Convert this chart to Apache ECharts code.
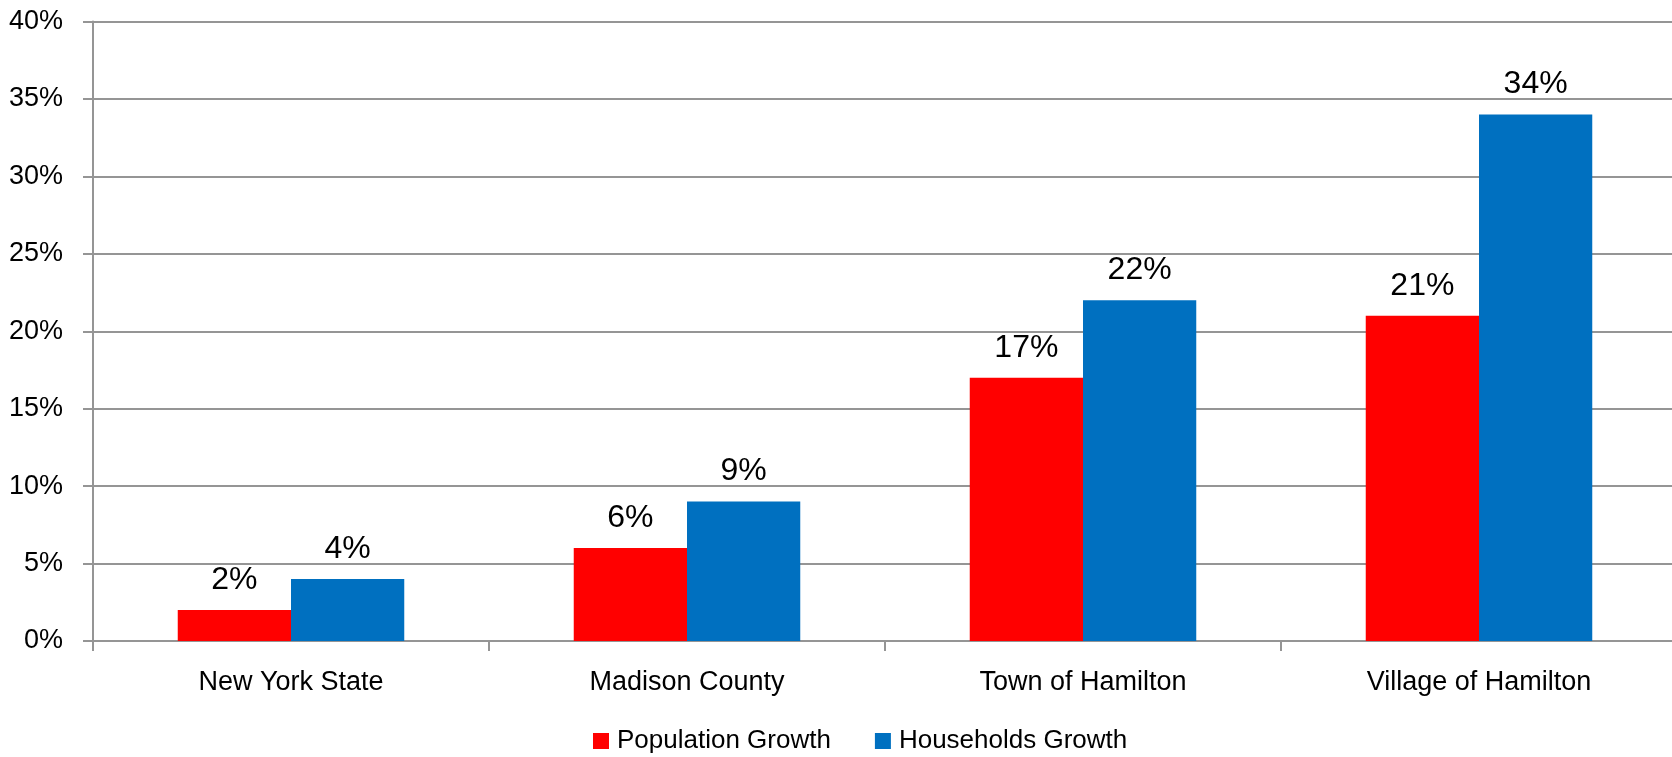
<!DOCTYPE html>
<html>
<head>
<meta charset="utf-8">
<script src="https://cdn.jsdelivr.net/npm/echarts@6/dist/echarts.min.js"></script>
<style>
html,body{margin:0;padding:0;background:#fff;}
#chart{width:1672px;height:757px;}
</style>
</head>
<body>
<div id="chart"></div>
<script>
const categories = ['New York State', 'Madison County', 'Town of Hamilton', 'Village of Hamilton'];
const populationGrowth = [2, 6, 17, 21];
const householdsGrowth = [4, 9, 22, 34];
const seriesNames = ['Population Growth', 'Households Growth'];

const FONT = '"Liberation Sans", Arial, sans-serif';
const GRID_COLOR = '#959595';

const chart = echarts.init(document.getElementById('chart'), null, {renderer: 'canvas'});
chart.setOption({
  animation: false,
  backgroundColor: '#ffffff',
  textStyle: {fontFamily: FONT},
  grid: {left: 93, width: 1584, top: 21.5, height: 619.5, containLabel: false, outerBoundsMode: 'none'},
  legend: {
    data: seriesNames,
    left: 588,
    top: 723,
    itemWidth: 16,
    itemHeight: 16,
    itemGap: 44,
    icon: 'rect',
    textStyle: {fontFamily: FONT, fontSize: 26, color: '#000', padding: [0, 0, 0, 3]}
  },
  xAxis: {
    type: 'category',
    data: categories,
    boundaryGap: true,
    axisLine: {show: true, lineStyle: {color: GRID_COLOR, width: 2}},
    axisTick: {show: true, length: 10, lineStyle: {color: GRID_COLOR, width: 2}},
    axisLabel: {fontFamily: FONT, fontSize: 27, color: '#000', margin: 28},
    splitLine: {show: false}
  },
  yAxis: {
    type: 'value',
    min: 0,
    max: 40,
    interval: 5,
    axisLine: {show: true, lineStyle: {color: GRID_COLOR, width: 2}},
    axisTick: {show: true, length: 10, lineStyle: {color: GRID_COLOR, width: 2}},
    axisLabel: {fontFamily: FONT, fontSize: 27, color: '#000', margin: 30, formatter: '{value}%'},
    splitLine: {show: true, lineStyle: {color: GRID_COLOR, width: 2}}
  },
  series: [
    {
      name: seriesNames[0],
      type: 'bar',
      data: populationGrowth,
      barWidth: '28.6%',
      barGap: '0%',
      itemStyle: {color: '#FF0000'},
      label: {show: true, position: 'top', distance: 14, formatter: '{c}%', fontFamily: FONT, fontSize: 32, color: '#000'}
    },
    {
      name: seriesNames[1],
      type: 'bar',
      data: householdsGrowth,
      barWidth: '28.6%',
      barGap: '0%',
      itemStyle: {color: '#0070C0'},
      label: {show: true, position: 'top', distance: 14, formatter: '{c}%', fontFamily: FONT, fontSize: 32, color: '#000'}
    }
  ]
});
</script>
</body>
</html>
